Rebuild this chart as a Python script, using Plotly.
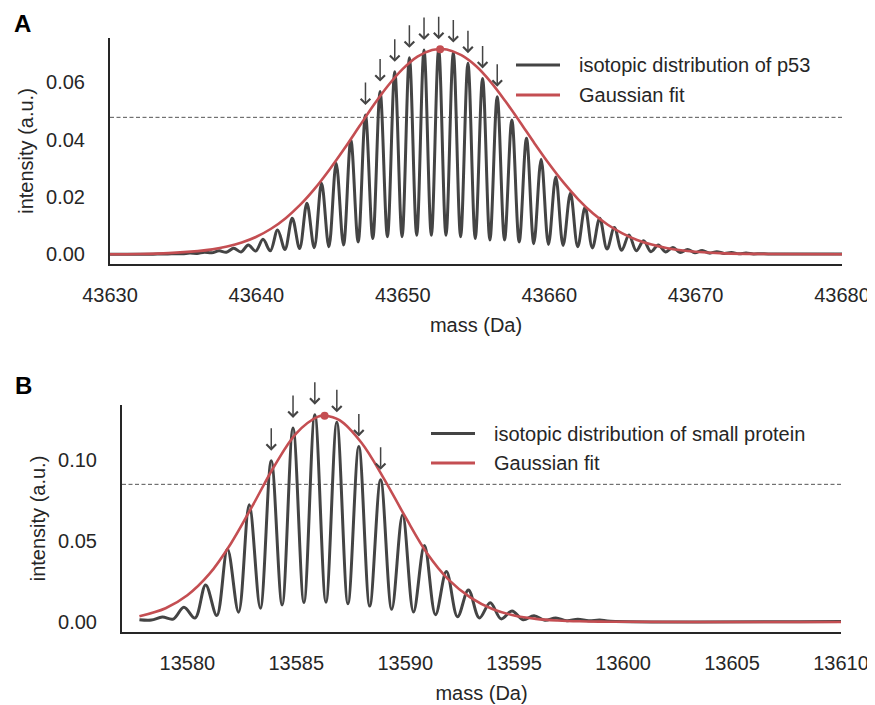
import plotly.graph_objects as go

# ---------------- data: panel A (p53) ----------------
a_peak_mass = [43633.45, 43634.45, 43635.45, 43636.45, 43637.45, 43638.45, 43639.45,
               43640.45, 43641.45, 43642.45, 43643.45, 43644.45, 43645.45, 43646.45,
               43647.45, 43648.45, 43649.45, 43650.45, 43651.45, 43652.45, 43653.45,
               43654.45, 43655.45, 43656.45, 43657.45, 43658.45, 43659.45, 43660.45,
               43661.45, 43662.45, 43663.45, 43664.45, 43665.45, 43666.45, 43667.45,
               43668.45, 43669.45, 43670.45, 43671.45, 43672.45, 43673.45, 43674.45]
a_peak_int = [0.0001, 0.0002, 0.0004, 0.0007, 0.0012, 0.0021, 0.0032,
              0.0052, 0.0085, 0.0126, 0.0178, 0.0248, 0.0318, 0.0399,
              0.0486, 0.0568, 0.0637, 0.0686, 0.0713, 0.0716, 0.0704,
              0.0667, 0.0614, 0.0550, 0.0469, 0.0405, 0.0332, 0.0270,
              0.0213, 0.0164, 0.0126, 0.0093, 0.0067, 0.0047, 0.0032,
              0.0024, 0.0017, 0.0013, 0.0009, 0.0006, 0.0004, 0.0002]
a_trough_mass = [43630.00, 43632.95, 43633.95, 43634.95, 43635.95, 43636.95, 43637.95,
                 43638.95, 43639.95, 43640.95, 43641.95, 43642.95, 43643.95, 43644.95,
                 43645.95, 43646.95, 43647.95, 43648.95, 43649.95, 43650.95, 43651.95,
                 43652.95, 43653.95, 43654.95, 43655.95, 43656.95, 43657.95, 43658.95,
                 43659.95, 43660.95, 43661.95, 43662.95, 43663.95, 43664.95, 43665.95,
                 43666.95, 43667.95, 43668.95, 43669.95, 43670.95, 43671.95, 43672.95,
                 43673.95, 43674.95, 43680.00]
a_trough_int = [0.0000, 0.0000, 0.0001, 0.0002, 0.0003, 0.0005, 0.0007,
                0.0008, 0.0011, 0.0012, 0.0017, 0.0020, 0.0023, 0.0026,
                0.0032, 0.0043, 0.0055, 0.0061, 0.0061, 0.0066, 0.0066,
                0.0066, 0.0061, 0.0055, 0.0050, 0.0050, 0.0043, 0.0037,
                0.0034, 0.0031, 0.0026, 0.0022, 0.0018, 0.0014, 0.0012,
                0.0009, 0.0008, 0.0006, 0.0005, 0.0004, 0.0003, 0.0002,
                0.0001, 0.0001, 0.0001]
a_fit_mass = [43630, 43632, 43634, 43636, 43637, 43638, 43639, 43640, 43641, 43642,
              43643, 43644, 43645, 43646, 43647, 43648, 43649, 43650, 43651, 43652,
              43652.55, 43653, 43654, 43655, 43656, 43657, 43658, 43659, 43660, 43661,
              43662, 43663, 43664, 43665, 43666, 43667, 43668, 43669, 43670, 43672,
              43675, 43680]
a_fit_int = [0.0000, 0.0001, 0.0004, 0.0011, 0.0017, 0.0027, 0.0041, 0.0061, 0.0089, 0.0126,
             0.0173, 0.0230, 0.0296, 0.0368, 0.0444, 0.0520, 0.0589, 0.0647, 0.0690, 0.0713,
             0.0716, 0.0715, 0.0695, 0.0657, 0.0602, 0.0535, 0.0462, 0.0387, 0.0315, 0.0249,
             0.0191, 0.0142, 0.0103, 0.0073, 0.0050, 0.0034, 0.0022, 0.0014, 0.0009, 0.0003,
             0.0001, 0.0000]
a_fit_max = (43652.55, 0.0716)
a_threshold = 0.0478
a_xticks = [43630, 43640, 43650, 43660, 43670, 43680]
a_yticks = [0.00, 0.02, 0.04, 0.06]

# ---------------- data: panel B (small protein) ----------------
b_peak_mass = [13578.85, 13579.84, 13580.84, 13581.84, 13582.84, 13583.85, 13584.85,
               13585.85, 13586.86, 13587.87, 13588.87, 13589.88, 13590.88, 13591.89,
               13592.90, 13593.90, 13594.90, 13595.91, 13596.91, 13597.92, 13598.92]
b_peak_int = [0.0030, 0.0091, 0.0229, 0.0450, 0.0724, 0.0996, 0.1198,
              0.1280, 0.1233, 0.1084, 0.0878, 0.0662, 0.0472, 0.0311,
              0.0198, 0.0119, 0.0068, 0.0039, 0.0025, 0.0017, 0.0012]
b_trough_mass = [13577.80, 13578.35, 13579.35, 13580.35, 13581.35, 13582.35, 13583.35,
                 13584.35, 13585.35, 13586.36, 13587.37, 13588.37, 13589.38, 13590.38,
                 13591.39, 13592.40, 13593.40, 13594.40, 13595.41, 13596.41, 13597.42,
                 13598.42, 13599.42, 13610.00]
b_trough_int = [0.0014, 0.0012, 0.0018, 0.0024, 0.0040, 0.0060, 0.0085,
                0.0105, 0.0120, 0.0122, 0.0112, 0.0098, 0.0078, 0.0062,
                0.0045, 0.0032, 0.0025, 0.0019, 0.0014, 0.0010, 0.0008,
                0.0007, 0.0005, 0.0003]
b_fit_mass = [13577.8, 13579, 13580, 13581, 13582, 13583, 13584, 13585, 13586, 13586.3,
              13587, 13588, 13589, 13590, 13591, 13592, 13593, 13594, 13595, 13596,
              13597, 13598, 13599, 13600, 13605, 13610]
b_fit_int = [0.0035, 0.0085, 0.0165, 0.0295, 0.0485, 0.0720, 0.0965, 0.1165, 0.1268, 0.1274,
             0.1245, 0.1105, 0.0890, 0.0650, 0.0425, 0.0260, 0.0150, 0.0080, 0.0040, 0.0019,
             0.0009, 0.0004, 0.0002, 0.0001, 0.0000, 0.0000]
b_fit_max = (13586.3, 0.1274)
b_threshold = 0.0850
b_xticks = [13580, 13585, 13590, 13595, 13600, 13605, 13610]
b_yticks = [0.00, 0.05, 0.10]

legend_a = ["isotopic distribution of p53", "Gaussian fit"]
legend_b = ["isotopic distribution of small protein", "Gaussian fit"]

# ---------------- styles ----------------
PAGE_OFF = 8          # default body margin of the html page
W, H = 875 - PAGE_OFF, 705 - PAGE_OFF
FONT = "Liberation Sans, Arial, Helvetica, sans-serif"
TXT = "#262626"
GRAY = "#444444"
RED = "#c44e52"


def merge(pm, pi, tm, ti):
    pts = sorted(list(zip(pm, pi)) + list(zip(tm, ti)))
    return [p[0] for p in pts], [p[1] for p in pts]


def px_x(p):
    return (p - PAGE_OFF) / W


def px_y(p):
    return 1 - (p - PAGE_OFF) / H


fig = go.Figure()

panels = [
    (a_peak_mass, a_peak_int, a_trough_mass, a_trough_int, a_fit_mass, a_fit_int,
     a_fit_max, a_threshold, "x", "y", legend_a),
    (b_peak_mass, b_peak_int, b_trough_mass, b_trough_int, b_fit_mass, b_fit_int,
     b_fit_max, b_threshold, "x2", "y2", legend_b),
]

annotations = []
shapes = []

for pm, pi, tm, ti, fm, fi, fmax, thr, xa, ya, leg in panels:
    sx, sy = merge(pm, pi, tm, ti)
    fig.add_trace(go.Scatter(x=sx, y=sy, mode="lines", name=leg[0],
                             line=dict(color=GRAY, width=3, shape="spline", smoothing=1.0),
                             xaxis=xa, yaxis=ya, showlegend=False, hoverinfo="skip"))
    fig.add_trace(go.Scatter(x=fm, y=fi, mode="lines", name=leg[1],
                             line=dict(color=RED, width=2.6, shape="spline", smoothing=1.0),
                             xaxis=xa, yaxis=ya, showlegend=False, hoverinfo="skip"))
    fig.add_trace(go.Scatter(x=[fmax[0]], y=[fmax[1]], mode="markers",
                             marker=dict(color=RED, size=8), xaxis=xa, yaxis=ya,
                             showlegend=False, hoverinfo="skip"))
    shapes.append(dict(type="line", xref=f"{xa} domain", yref=ya, x0=0, x1=1, y0=thr, y1=thr,
                       line=dict(color="#555555", width=1, dash="4px,2.5px"), layer="below"))
    for m, v in zip(pm, pi):
        if v >= thr:
            annotations.append(dict(x=m, y=v, xref=xa, yref=ya, text="", showarrow=True,
                                    ax=0, ay=-34, standoff=10, arrowhead=4, arrowsize=1.25,
                                    arrowwidth=1.5, arrowcolor=GRAY))

legend_layout = [
    (legend_a, 516, 560, 577, 65, 95),
    (legend_b, 431, 475, 492, 433.5, 463),
]
for texts, lx0, lx1, tx, y1, y2 in legend_layout:
    for txt, yy, col in [(texts[0], y1, GRAY), (texts[1], y2, RED)]:
        shapes.append(dict(type="line", xref="paper", yref="paper",
                           x0=px_x(lx0), x1=px_x(lx1), y0=px_y(yy), y1=px_y(yy),
                           line=dict(color=col, width=3)))
        annotations.append(dict(x=px_x(tx), y=px_y(yy), xref="paper", yref="paper",
                                text=txt, showarrow=False, xanchor="left", yanchor="middle",
                                font=dict(size=20, color=TXT, family=FONT)))

# panel letters (top-anchored so the text box stays inside the page)
for letter, lx, ly in [("A", 22.5, 8), ("B", 23, 370)]:
    annotations.append(dict(x=px_x(lx), y=px_y(ly), xref="paper", yref="paper",
                            text=f"<b>{letter}</b>", showarrow=False,
                            xanchor="center", yanchor="top",
                            font=dict(size=24, color="black", family=FONT)))

axis_common = dict(showline=True, linecolor=TXT, linewidth=2, showgrid=False, zeroline=False,
                   automargin=False,
                   ticks="", tickfont=dict(size=20, color=TXT, family=FONT),
                   title_font=dict(size=20, color=TXT, family=FONT))

fig.update_layout(
    width=W, height=H,
    margin=dict(l=0, r=0, t=0, b=0),
    plot_bgcolor="white", paper_bgcolor="white",
    showlegend=False,
    font=dict(family=FONT, color=TXT),
    xaxis=dict(domain=[px_x(110), px_x(842)], range=[43630, 43680], tickvals=a_xticks,
               tickformat="d", anchor="y", ticklabelstandoff=12,
               title=dict(text="mass (Da)", standoff=13), **axis_common),
    yaxis=dict(domain=[px_y(264), px_y(38)], range=[-0.0034, 0.0755], tickvals=a_yticks,
               tickformat=".2f", anchor="x", ticklabelstandoff=19,
               title=dict(text="intensity (a.u.)", standoff=7), **axis_common),
    xaxis2=dict(domain=[px_x(122), px_x(841)], range=[13577, 13610], tickvals=b_xticks,
                tickformat="d", anchor="y2", ticklabelstandoff=12,
                title=dict(text="mass (Da)", standoff=13), **axis_common),
    yaxis2=dict(domain=[px_y(632), px_y(405)], range=[-0.0062, 0.134], tickvals=b_yticks,
                tickformat=".2f", anchor="x2", ticklabelstandoff=19,
                title=dict(text="intensity (a.u.)", standoff=7), **axis_common),
    shapes=shapes,
    annotations=annotations,
)

fig.write_html("out.html")
